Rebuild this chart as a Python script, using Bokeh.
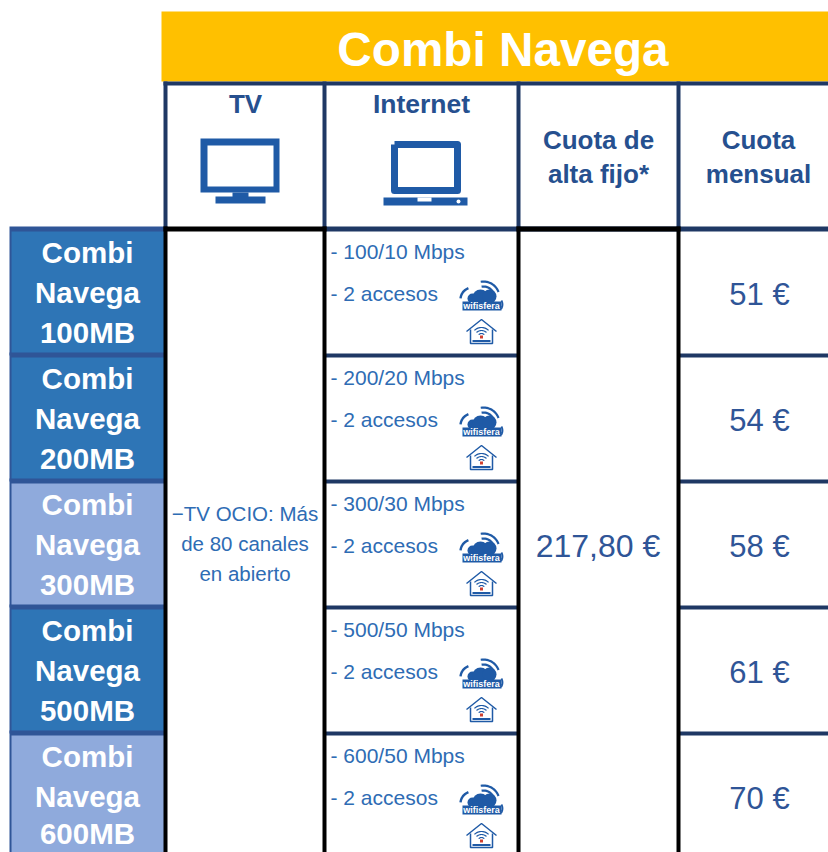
import numpy as np
from bokeh.plotting import figure
from bokeh.embed import file_html
from bokeh.resources import INLINE
from bokeh.core.properties import value

title = "Combi Navega"
headers = ["TV", "Internet"]
fee_header = ["Cuota de", "alta fijo*"]
monthly_header = ["Cuota", "mensual"]
plans = ["100MB", "200MB", "300MB", "500MB", "600MB"]
speeds = ["100/10", "200/20", "300/30", "500/50", "600/50"]
prices = [51, 54, 58, 61, 70]
fee = "217,80 €"
tv_lines = ["−TV OCIO: Más", "de 80 canales", "en abierto"]
access = "- 2 accesos"

YEL = "#FFC000"; NAVY = "#1F3864"; HEAD = "#26508F"; ICON = "#1F5AA6"
DARK = "#2E75B6"; LIGHT = "#8FAADC"; BORD = "#2F5597"; BODY = "#2E6CB4"; PRICE = "#2F5597"
FONT = value("Liberation Sans")
fills = [DARK, DARK, LIGHT, DARK, LIGHT]

COLS = [166, 325, 519, 679, 829]
TOP = 230
ROW = 126

p = figure(width=828, height=852, x_range=(1, 829), y_range=(853, 1), output_backend="svg",
           toolbar_location=None, min_border=0, outline_line_color=None, background_fill_color="white")
p.axis.visible = False
p.grid.visible = False

def rect(x0, x1, y0, y1, color):
    p.quad(left=[x0], right=[x1], top=[y0], bottom=[y1], fill_color=color, line_color=None)

def line(xs, ys, color, w):
    p.line(xs, ys, line_color=color, line_width=w)

def txt(x, y, s, size, color, bold=False, align="center"):
    p.text([x], [y], text=[s], text_font=FONT, text_font_size=f"{size}px", text_color=color,
           text_align=align, text_baseline="middle", text_font_style="bold" if bold else "normal")

def ring(cx, cy, r, start, end, color, w):
    t = np.radians(np.linspace(start, end, 16))
    p.line(cx + r * np.cos(t), cy + r * np.sin(t), line_color=color, line_width=w)

def wifisfera(ox, oy):
    for dx, dy, r in [(-8, 3, 5), (0, 2, 8), (9, 1, 7)]:
        p.circle([ox + dx], [oy + dy], radius=r, fill_color=ICON, line_color=None)
    rect(ox - 18, ox + 21, oy + 6, oy + 15, ICON)
    p.text([ox + 1], [oy + 10.5], text=["wifisfera"], text_font=FONT, text_font_size="9px", text_color="white",
           text_align="center", text_baseline="middle", text_font_style="bold")
    ring(ox + 3, oy + 2, 11, -100, -25, ICON, 2.2)
    ring(ox + 3, oy + 2, 16, -100, -20, ICON, 2.2)
    ring(ox - 8, oy + 4, 12, -175, -110, ICON, 2.4)
    ring(ox + 14, oy + 9, 8, -30, 35, ICON, 1.8)

def house(ox, oy):
    p.line([ox - 15, ox, ox + 15], [oy + 1, oy - 11, oy + 1], line_color=ICON, line_width=1.5)
    p.line([ox - 11, ox - 11, ox + 11, ox + 11], [oy - 1, oy + 13, oy + 13, oy - 1], line_color=ICON, line_width=1.5)
    for r in (4, 7, 10):
        ring(ox, oy + 7, r, -135, -45, ICON, 1.2)
    rect(ox - 1.5, ox + 1.5, oy + 5, oy + 8, "#D04030")
    p.line([ox - 9, ox + 9], [oy + 10.5, oy + 10.5], line_color=ICON, line_width=2)

# title band
rect(162, COLS[-1], 12, 82, YEL)
txt(503.5, 50, title, 47.7, "white", True)

# header cells
for x in COLS[:-1]:
    line([x, x], [82, TOP], NAVY, 4)
line([COLS[0] - 2, COLS[-1]], [84, 84], NAVY, 4)
line([COLS[1], COLS[-1]], [TOP - 0.5, TOP - 0.5], NAVY, 5)
txt(246, 104.5, headers[0], 26, HEAD, True)
txt(422, 104.5, headers[1], 26.5, HEAD, True)
txt(599, 140.5, fee_header[0], 26, HEAD, True)
txt(599, 174.5, fee_header[1], 26, HEAD, True)
txt(759, 140.5, monthly_header[0], 26, HEAD, True)
txt(759, 174.5, monthly_header[1], 26, HEAD, True)

# TV icon
rect(201, 280, 139, 193, ICON); rect(208, 274, 146, 187, "white")
rect(233, 249, 193, 198, ICON); rect(216, 266, 197, 204, ICON)
# Laptop icon
p.line([395, 458, 458, 395, 395], [145, 145, 191, 191, 145], line_color=ICON, line_width=7, line_join="round")
rect(384, 468, 198, 206, ICON); rect(418, 432, 198, 202, "white")
p.circle([459], [202], radius=2, fill_color="white", line_color=None)

# rows
for i, (plan, sp, pr) in enumerate(zip(plans, speeds, prices)):
    y0 = TOP + i * ROW
    y1 = y0 + ROW
    rect(10, COLS[0], y0 - 3, y1, BORD)
    rect(12, COLS[0], y0 + 2, y1 - 2, fills[i])
    txt(88, y0 + 23, "Combi", 29.5, "white", True)
    txt(88, y0 + 63, "Navega", 29.5, "white", True)
    txt(88, y0 + (100 if i == len(plans) - 1 else 103), plan, 29.5, "white", True)
    txt(331, y0 + 22, f"- {sp} Mbps", 21, BODY, align="left")
    txt(331, y0 + 64, access, 21, BODY, align="left")
    wifisfera(481, y0 + 66)
    house(482, y0 + 101)
    txt(760, y0 + 65, f"{pr} €", 31, PRICE)
    if i:
        line([COLS[1], COLS[2]], [y0, y0], NAVY, 4)
        line([COLS[3], COLS[4]], [y0, y0], NAVY, 4)

for y, s in zip([514, 544, 574], tv_lines):
    txt(245.5, y, s, 20.5, BODY)
txt(598.5, 546, fee, 32, PRICE)

# black body rules
for x in COLS[:-1]:
    line([x, x], [TOP - 3, 853], "black", 4)
line([COLS[0] - 2, COLS[1] + 2], [TOP - 0.5, TOP - 0.5], "black", 5)
line([COLS[2] - 2, COLS[3] + 2], [TOP - 0.5, TOP - 0.5], "black", 5)

open("out.html", "w").write(file_html(p, INLINE))
